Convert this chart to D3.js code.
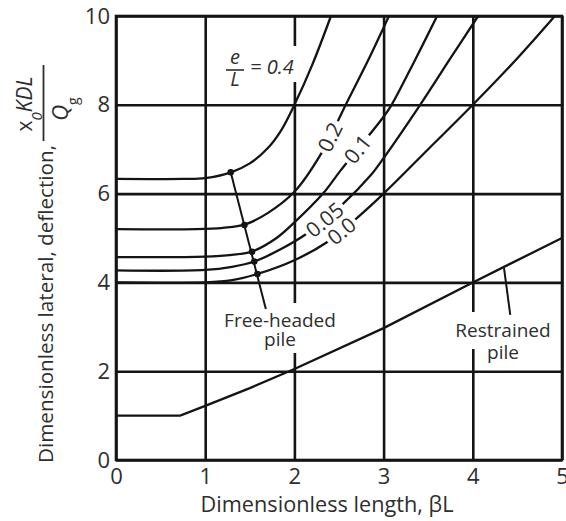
<!DOCTYPE html>
<html>
<head>
<meta charset="utf-8">
<script src="https://cdn.jsdelivr.net/npm/d3@7"></script>
<style>
  body { margin: 0; background: #fff; }
  svg text { font-family: "Open Sans", sans-serif; fill: #2e2e2e; }
</style>
</head>
<body>
<svg id="chart" width="566" height="521"></svg>
<script>
// tick values
const xTicks = [0, 1, 2, 3, 4, 5];
const yTicks = [0, 2, 4, 6, 8, 10];

// free-headed curves, [βL, deflection]
const curve04 = [[0, 6.33], [0.75, 6.33], [1.0, 6.35], [1.29, 6.48], [1.5, 6.68], [1.7, 7.02], [1.85, 7.42], [2.0, 8.0], [2.2, 8.9], [2.41, 10]];
const curve02 = [[0, 5.2], [0.9, 5.2], [1.2, 5.23], [1.44, 5.3], [1.7, 5.56], [2.0, 6.04], [2.3, 6.9], [2.58, 8.02], [2.85, 9.1], [3.06, 10]];
const curve01 = [[0, 4.57], [1.0, 4.58], [1.3, 4.62], [1.53, 4.7], [1.8, 5.0], [2.0, 5.35], [2.32, 6.0], [2.51, 6.5], [2.71, 7.0], [3.0, 7.73], [3.09, 8.0], [3.35, 9.0], [3.6, 10]];
const curve005 = [[0, 4.27], [1.0, 4.28], [1.3, 4.35], [1.55, 4.47], [1.85, 4.75], [2.14, 5.1], [2.55, 5.78], [2.85, 6.4], [3.0, 6.8], [3.41, 8.0], [3.75, 9.05], [4.06, 10]];
const curve00 = [[0, 4.0], [1.0, 4.0], [1.3, 4.05], [1.585, 4.19], [2.0, 4.5], [2.36, 4.9], [2.7, 5.45], [3.0, 6.0], [3.5, 7.0], [4.0, 8.0], [4.5, 9.05], [4.92, 10]];
// restrained pile
const restrained = [[0, 1.0], [0.72, 1.0], [1.0, 1.22], [1.5, 1.62], [2.0, 2.05], [3.0, 2.97], [4.0, 4.0], [5.0, 5.0]];

// label text on the curves and where they sit (βL)
const curveLabels = ["0.2", "0.1", "0.05", "0.0"];
const labelAt = [2.40, 2.71, 2.34, 2.53];

// free-headed pile points (dots on each curve) and end of the leader
const freeDots = [[1.286, 6.48], [1.44, 5.29], [1.525, 4.69], [1.55, 4.47], [1.585, 4.19]];
const freeLeaderEnd = [1.68, 3.4];
const restrainedLeader = [[4.35, 4.32], [4.42, 3.27]];

const svg = d3.select("#chart");
const plotLeft = 116, plotRight = 562, plotTop = 16, plotBottom = 460;
const lineColor = "#141414";

const x = d3.scaleLinear().domain([0, 5]).range([plotLeft, plotRight]);
const y = d3.scaleLinear().domain([0, 10]).range([plotBottom, plotTop]);

// grid + tick labels via axes
const gx = svg.append("g")
    .attr("transform", `translate(0,${plotBottom})`)
    .call(d3.axisBottom(x).tickValues(xTicks).tickSize(-(plotBottom - plotTop)).tickSizeOuter(0).tickPadding(8).tickFormat(d3.format("d")));
const gy = svg.append("g")
    .attr("transform", `translate(${plotLeft},0)`)
    .call(d3.axisLeft(y).tickValues(yTicks).tickSize(-(plotRight - plotLeft)).tickSizeOuter(0).tickPadding(6).tickFormat(d3.format("d")));

[gx, gy].forEach(g => {
  g.select(".domain").remove();
  g.selectAll(".tick line").attr("stroke", lineColor).attr("stroke-width", 2.6);
  g.selectAll(".tick text").attr("fill", "#2e2e2e").style("font-size", "22px");
});

// frame
svg.append("rect")
    .attr("x", plotLeft).attr("y", plotTop)
    .attr("width", plotRight - plotLeft).attr("height", plotBottom - plotTop)
    .attr("fill", "none").attr("stroke", lineColor).attr("stroke-width", 2.6);

// white patches where the grid is broken by labels
const patches = [[224, 46, 77, 36], [221, 303, 118, 50], [446, 312, 114, 37]];
svg.selectAll(".patch").data(patches).enter().append("rect")
    .attr("x", d => d[0]).attr("y", d => d[1])
    .attr("width", d => d[2]).attr("height", d => d[3])
    .attr("fill", "#fff");

// curves
const smooth = d3.line().x(d => x(d[0])).y(d => y(d[1])).curve(d3.curveCatmullRom.alpha(0.5));
const straight = d3.line().x(d => x(d[0])).y(d => y(d[1]));

const labelled = [curve02, curve01, curve005, curve00];
svg.append("path").attr("d", smooth(curve04))
    .attr("fill", "none").attr("stroke", lineColor).attr("stroke-width", 2.3);
const paths = labelled.map(c => svg.append("path").attr("d", smooth(c))
    .attr("fill", "none").attr("stroke", lineColor).attr("stroke-width", 2.3));
svg.append("path").attr("d", straight(restrained))
    .attr("fill", "none").attr("stroke", lineColor).attr("stroke-width", 2.3);

// labels placed along the curves
function lengthAtX(node, px) {
  let lo = 0, hi = node.getTotalLength();
  for (let i = 0; i < 40; i++) {
    const mid = (lo + hi) / 2;
    if (node.getPointAtLength(mid).x < px) lo = mid; else hi = mid;
  }
  return lo;
}
paths.forEach((p, i) => {
  const node = p.node();
  const L = lengthAtX(node, x(labelAt[i]));
  const c = node.getPointAtLength(L);
  const a = node.getPointAtLength(L - 4), b = node.getPointAtLength(L + 4);
  const ang = Math.atan2(b.y - a.y, b.x - a.x) * 180 / Math.PI;
  const g = svg.append("g").attr("transform", `translate(${c.x},${c.y}) rotate(${ang})`);
  const t = g.append("text")
      .attr("text-anchor", "middle").attr("dy", "0.36em")
      .style("font-size", "21px")
      .text(curveLabels[i]);
  const w = t.node().getComputedTextLength() + 6;
  g.insert("rect", "text")
      .attr("x", -w / 2).attr("y", -8).attr("width", w).attr("height", 16)
      .attr("fill", "#fff");
});

// free-headed pile leader and dots
svg.append("line")
    .attr("x1", x(freeDots[0][0])).attr("y1", y(freeDots[0][1]))
    .attr("x2", x(freeLeaderEnd[0])).attr("y2", y(freeLeaderEnd[1]))
    .attr("stroke", lineColor).attr("stroke-width", 2);
svg.selectAll(".dot").data(freeDots).enter().append("circle")
    .attr("cx", d => x(d[0])).attr("cy", d => y(d[1])).attr("r", 3.3)
    .attr("fill", lineColor);

svg.append("line")
    .attr("x1", x(restrainedLeader[0][0])).attr("y1", y(restrainedLeader[0][1]))
    .attr("x2", x(restrainedLeader[1][0])).attr("y2", y(restrainedLeader[1][1]))
    .attr("stroke", lineColor).attr("stroke-width", 2);

// annotations
svg.append("text").attr("x", 280).attr("y", 327).attr("text-anchor", "middle")
    .style("font-size", "19px").text("Free-headed");
svg.append("text").attr("x", 280).attr("y", 346).attr("text-anchor", "middle")
    .style("font-size", "19px").text("pile");
svg.append("text").attr("x", 503).attr("y", 337).attr("text-anchor", "middle")
    .style("font-size", "19px").text("Restrained");
svg.append("text").attr("x", 503).attr("y", 359).attr("text-anchor", "middle")
    .style("font-size", "19px").text("pile");

// e/L = 0.4
svg.append("text").attr("x", 235).attr("y", 64).attr("text-anchor", "middle")
    .style("font-size", "20px").style("font-style", "italic").text("e");
svg.append("line").attr("x1", 226).attr("x2", 244).attr("y1", 70).attr("y2", 70)
    .attr("stroke", "#2e2e2e").attr("stroke-width", 1.6);
svg.append("text").attr("x", 235).attr("y", 86).attr("text-anchor", "middle")
    .style("font-size", "20px").style("font-style", "italic").text("L");
svg.append("text").attr("x", 250).attr("y", 74)
    .style("font-size", "20px").style("font-style", "italic").text("= 0.4");

// axis titles
svg.append("text").attr("x", 327).attr("y", 512).attr("text-anchor", "middle")
    .style("font-size", "21px").attr("textLength", 253).attr("lengthAdjust", "spacingAndGlyphs")
    .text("Dimensionless length, βL");

svg.append("text").attr("transform", "translate(53,145) rotate(-90)")
    .attr("text-anchor", "end").style("font-size", "20px")
    .attr("textLength", 318).attr("lengthAdjust", "spacingAndGlyphs")
    .text("Dimensionless lateral, deflection,");
const num = svg.append("text").attr("transform", "translate(32,104) rotate(-90)")
    .attr("text-anchor", "middle").style("font-size", "21px");
num.append("tspan").text("x");
num.append("tspan").attr("baseline-shift", "sub").style("font-size", "15px").style("font-style", "italic").text("0");
num.append("tspan").style("font-style", "italic").text("KDL");
svg.append("line").attr("x1", 43.5).attr("x2", 43.5).attr("y1", 65).attr("y2", 141)
    .attr("stroke", "#2e2e2e").attr("stroke-width", 1.8);
const den = svg.append("text").attr("transform", "translate(68,109) rotate(-90)")
    .attr("text-anchor", "middle").style("font-size", "22px");
den.append("tspan").style("font-style", "italic").text("Q");
den.append("tspan").attr("baseline-shift", "sub").style("font-size", "14px").text("g");
</script>
</body>
</html>
